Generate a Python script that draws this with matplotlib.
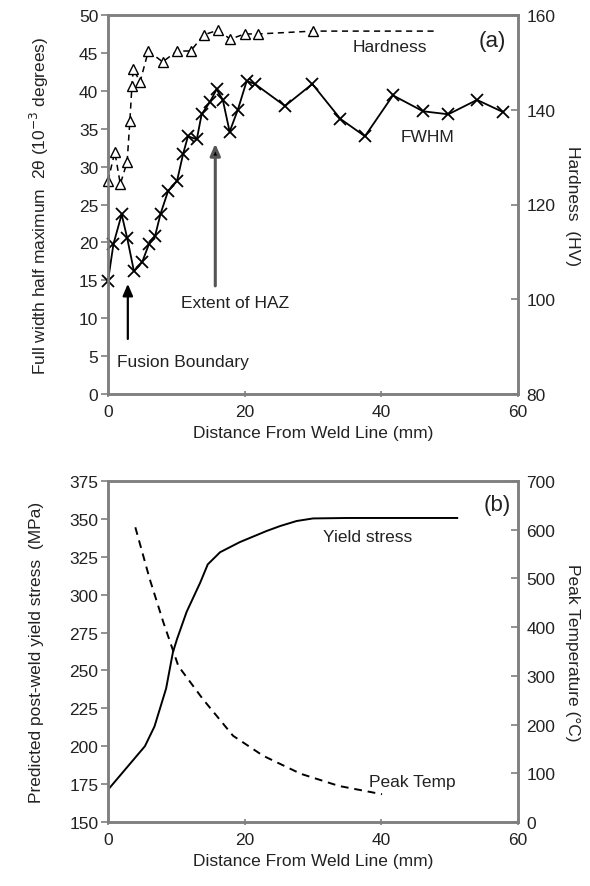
import matplotlib
matplotlib.use("Agg")
import matplotlib.pyplot as plt

plt.rcParams['font.family'] = ['Liberation Sans', 'DejaVu Sans']

# ---- Panel (a) data ----
fwhm_x = [0, 0.8, 2.0, 2.8, 3.8, 5.0, 6.0, 6.9, 7.7, 8.8, 10.1, 11.0, 11.7, 13.0,
          13.7, 14.9, 15.9, 16.8, 17.8, 19.0, 20.3, 21.5, 25.9, 29.9, 34.0, 37.6,
          41.7, 46.1, 49.8, 54.0, 57.8]
fwhm_y = [14.9, 19.8, 23.7, 20.6, 16.2, 17.4, 19.8, 20.9, 23.8, 26.8, 28.1, 31.7,
          34.0, 33.6, 36.9, 38.5, 40.2, 38.8, 34.6, 37.5, 41.3, 40.9, 38.0, 40.9,
          36.3, 34.0, 39.4, 37.3, 36.9, 38.8, 37.2]

hard_x = [0, 1.0, 1.8, 2.8, 3.2, 3.5, 3.7, 4.7, 5.9, 8.0, 10.1, 12.1, 14.0, 16.1,
          17.9, 20.0, 22.0, 30.0, 48.1]
hard_y = [125.0, 131.1, 124.3, 129.0, 137.6, 145.0, 148.6, 145.9, 152.4, 150.1,
          152.4, 152.4, 155.8, 156.8, 154.9, 156.0, 156.0, 156.6, 156.6]

# ---- Panel (b) data ----
ys_x = [0.1, 5.4, 6.8, 8.5, 9.5, 10.1, 11.5, 13.5, 14.6, 16.4, 19.3, 23.2, 25.2,
        27.6, 30.0, 35.0, 51.1]
ys_y = [171.8, 200, 213, 238, 262, 270.7, 288.6, 308, 320, 328, 334.7, 342, 345.3,
        348.6, 350.3, 350.6, 350.6]

pt_x = [4.0, 6.1, 8.1, 10.3, 13.9, 18.3, 22.7, 28.2, 33.8, 40.1]
pt_y = [605, 499, 410, 320, 252, 177, 136, 99, 74, 57]

xticks = [0, 20, 40, 60]
SP = '#7f7f7f'
FS = 12.5
TC = '#222222'

fig = plt.figure(figsize=(5.9, 8.87), dpi=100)
W, H = 590.0, 887.0
L, R = 108 / W, 518 / W

def style(ax, ax2):
    for a in (ax, ax2):
        for s in a.spines.values():
            s.set_color(SP)
            s.set_linewidth(1.8)
    ax.tick_params(axis='y', direction='out', length=5, width=1.2, color=SP,
                   labelsize=FS, pad=2, labelcolor=TC)
    ax.tick_params(axis='x', direction='inout', length=5, width=1.2, color=SP,
                   labelsize=FS, pad=5, labelcolor=TC)
    ax2.tick_params(axis='y', direction='in', length=5, width=1.2, color=SP,
                    labelsize=FS, pad=6, labelcolor=TC)

# ---------- (a) ----------
axa = fig.add_axes([L, 1 - 395 / H, R - L, (395 - 16) / H])
axa2 = axa.twinx()
axa.plot(fwhm_x, fwhm_y, color='black', lw=1.3, marker='x', ms=8, mew=1.3,
         zorder=3, clip_on=False)
axa2.plot(hard_x, hard_y, color='black', lw=1.1, ls=(0, (4, 3)), marker='^',
          ms=6.5, mfc='white', mec='black', mew=1.0, clip_on=False,
          markevery=list(range(len(hard_x) - 1)))
axa.set_xlim(0, 60)
axa.set_ylim(0, 50)
axa2.set_ylim(80, 160)
axa.set_xticks(xticks)
axa.set_yticks(range(0, 51, 5))
axa2.set_yticks([80, 100, 120, 140, 160])
axa.set_xlabel('Distance From Weld Line (mm)', fontsize=FS, labelpad=4, color=TC)
axa.set_ylabel('Full width half maximum  2\u03b8 (10$^{-3}$ degrees)',
               fontsize=FS, labelpad=20, color=TC)
axa2.set_ylabel('Hardness  (HV)', fontsize=FS, rotation=270, labelpad=18,
                color=TC)
style(axa, axa2)

axa.annotate('', xy=(2.9, 14.9), xytext=(2.9, 6.9),
             arrowprops=dict(arrowstyle='-|>,head_length=0.7,head_width=0.3',
                             color='black', lw=1.6))
axa.annotate('', xy=(15.7, 33.4), xytext=(15.7, 13.9),
             arrowprops=dict(arrowstyle='-|>,head_length=0.7,head_width=0.3',
                             color='#555555', lw=2.2, fc='black'))
axa.text(1.3, 4.35, 'Fusion Boundary', fontsize=FS, va='center', ha='left',
         color=TC)
axa.text(10.7, 12.1, 'Extent of HAZ', fontsize=FS, va='center', ha='left',
         color=TC)
axa.text(41.3, 45.9, 'Hardness', fontsize=FS, va='center', ha='center',
         color=TC)
axa.text(46.8, 34.0, 'FWHM', fontsize=FS, va='center', ha='center', color=TC)
axa.text(56.2, 46.6, '(a)', fontsize=16, va='center', ha='center', color=TC)

# ---------- (b) ----------
axb = fig.add_axes([L, 1 - 823 / H, R - L, (823 - 482) / H])
axb2 = axb.twinx()
axb.plot(ys_x, ys_y, color='black', lw=1.4)
axb2.plot(pt_x, pt_y, color='black', lw=1.4, ls=(0, (4, 3)))
axb.set_xlim(0, 60)
axb.set_ylim(150, 375)
axb2.set_ylim(0, 700)
axb.set_xticks(xticks)
axb.set_yticks(range(150, 376, 25))
axb2.set_yticks(range(0, 701, 100))
axb.set_xlabel('Distance From Weld Line (mm)', fontsize=FS, labelpad=4, color=TC)
axb.set_ylabel('Predicted post-weld yield stress  (MPa)', fontsize=FS,
               labelpad=18, color=TC)
axb2.set_ylabel('Peak Temperature (\u00b0C)', fontsize=FS, rotation=270,
                labelpad=18, color=TC)
style(axb, axb2)

axb.text(38.0, 338.7, 'Yield stress', fontsize=FS, va='center', ha='center',
         color=TC)
axb.text(44.6, 177, 'Peak Temp', fontsize=FS, va='center', ha='center',
         color=TC)
axb.text(56.9, 359.8, '(b)', fontsize=16, va='center', ha='center', color=TC)

fig.savefig('out.png', dpi=100)
